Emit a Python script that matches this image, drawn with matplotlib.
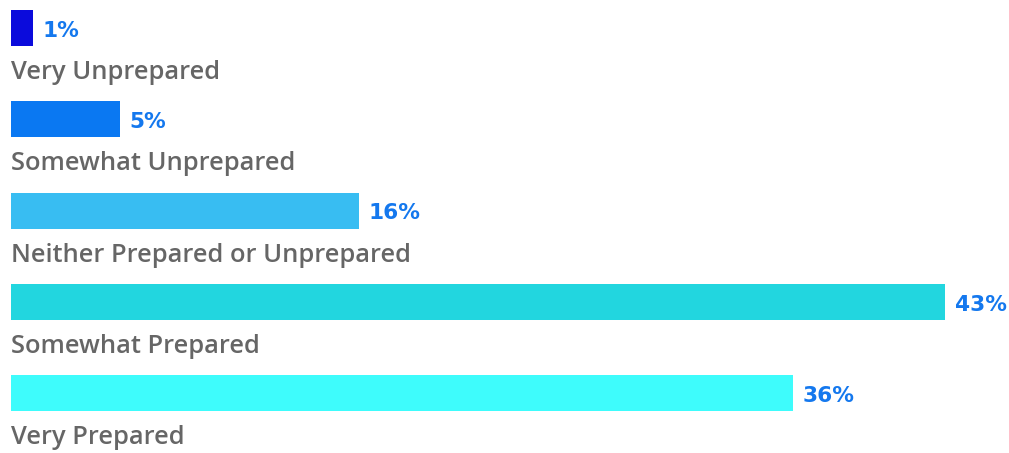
import matplotlib
matplotlib.use("Agg")
import matplotlib.pyplot as plt

categories = ["Very Unprepared", "Somewhat Unprepared", "Neither Prepared or Unprepared",
              "Somewhat Prepared", "Very Prepared"]
values = [1, 5, 16, 43, 36]
value_labels = ["1%", "5%", "16%", "43%", "36%"]
colors = ["#0b0bdc", "#0a78f2", "#38bdf2", "#22d6df", "#3efcfc"]

W, H = 1009, 453
fig = plt.figure(figsize=(W / 100, H / 100), dpi=100)
ax = fig.add_axes([0, 0, 1, 1])

px_per_unit = 21.72
x0 = 11
ax.set_xlim(-x0 / px_per_unit, (W - x0) / px_per_unit)
row = 91.25
y0 = 28
ax.set_ylim((H - y0) / row, -y0 / row)

ys = list(range(len(categories)))
ax.barh(ys, values, height=36 / row, color=colors, left=0)

for y, v, lab, cat in zip(ys, values, value_labels, categories):
    ax.text(v + 10 / px_per_unit, y + 1 / row, lab, va="center_baseline", ha="left",
            color="#1478ee", fontsize=15.6, fontweight="bold", family="DejaVu Sans")
    ax.text(0, y + 51 / row, cat, va="baseline", ha="left",
            color="#666666", fontsize=18.4, fontweight="semibold", family="Open Sans")

ax.axis("off")
fig.savefig("out.png", dpi=100)
